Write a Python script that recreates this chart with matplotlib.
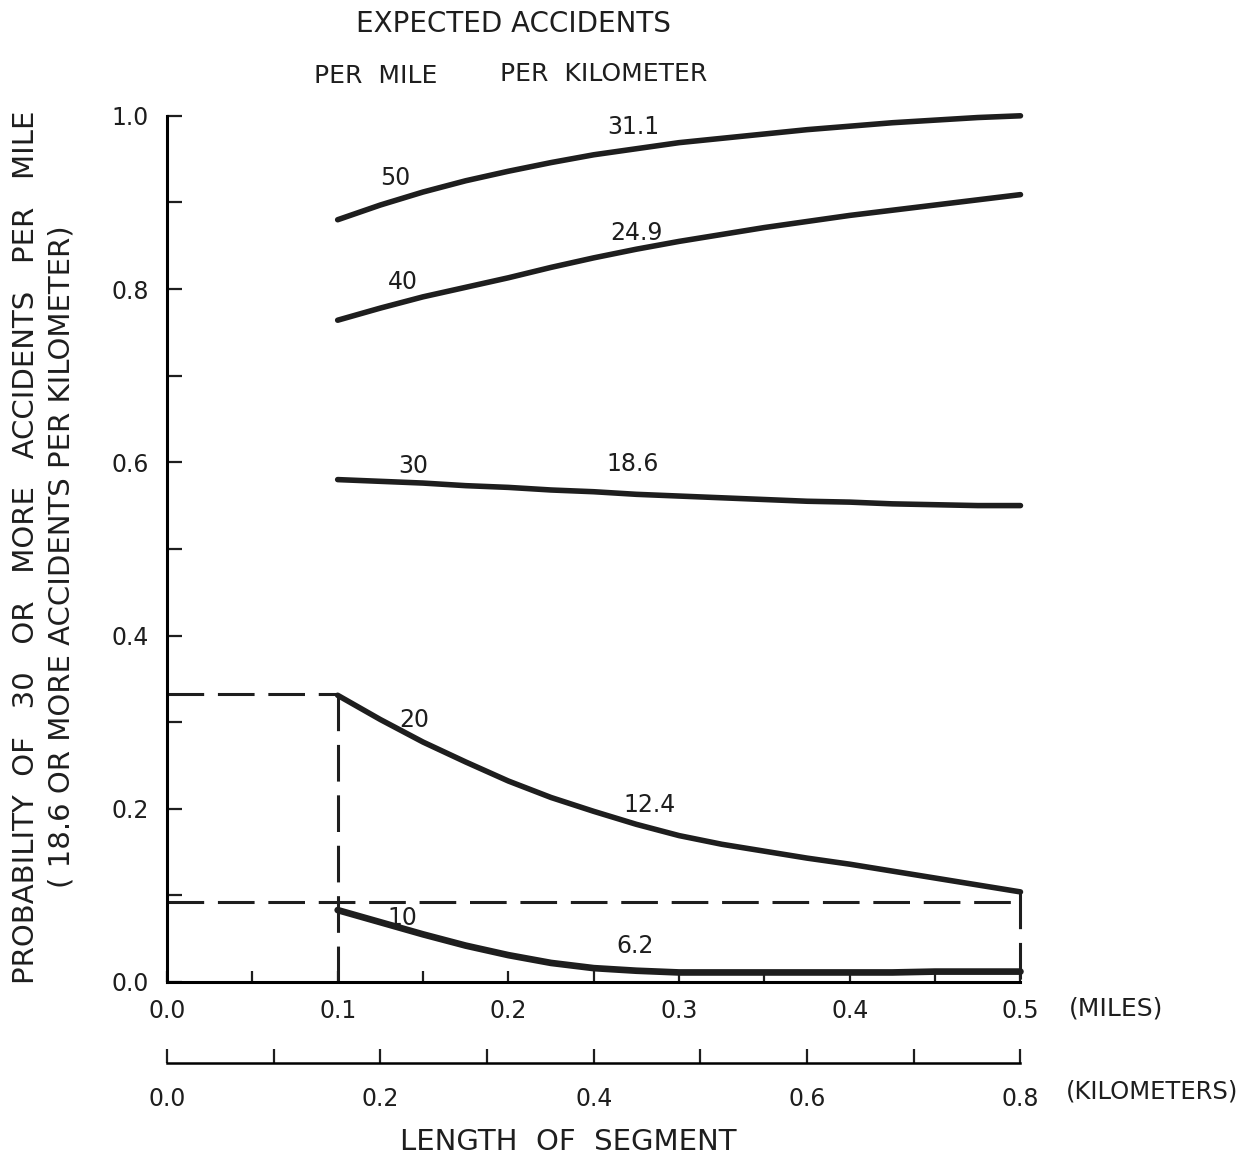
import matplotlib
matplotlib.use("Agg")
import matplotlib.pyplot as plt

plt.rcParams['font.family'] = ['DejaVu Sans']

# segment length in miles
miles = [0.1, 0.125, 0.15, 0.175, 0.2, 0.225, 0.25, 0.275, 0.3,
         0.325, 0.35, 0.375, 0.4, 0.425, 0.45, 0.475, 0.5]

# probability of 30 or more accidents per mile, one curve per expected rate
p50 = [0.880, 0.897, 0.912, 0.925, 0.936, 0.946, 0.955, 0.962, 0.969,
       0.974, 0.979, 0.984, 0.988, 0.992, 0.995, 0.998, 1.000]
p40 = [0.764, 0.778, 0.791, 0.802, 0.813, 0.825, 0.836, 0.846, 0.855,
       0.863, 0.871, 0.878, 0.885, 0.891, 0.897, 0.903, 0.909]
p30 = [0.580, 0.578, 0.576, 0.573, 0.571, 0.568, 0.566, 0.563, 0.561,
       0.559, 0.557, 0.555, 0.554, 0.552, 0.551, 0.550, 0.550]
p20 = [0.331, 0.303, 0.277, 0.254, 0.232, 0.213, 0.197, 0.182, 0.169,
       0.159, 0.151, 0.143, 0.136, 0.128, 0.120, 0.112, 0.104]
p10 = [0.083, 0.069, 0.055, 0.042, 0.031, 0.022, 0.016, 0.013, 0.011,
       0.011, 0.011, 0.011, 0.011, 0.011, 0.012, 0.012, 0.012]

per_mile = ['50', '40', '30', '20', '10']
per_km = ['31.1', '24.9', '18.6', '12.4', '6.2']
# label spots (miles, prob) for the two rate labels of each curve
mile_lab_pos = [(0.134, 0.928), (0.138, 0.808), (0.144, 0.596), (0.145, 0.302), (0.138, 0.074)]
km_lab_pos = [(0.273, 0.987), (0.275, 0.865), (0.273, 0.598), (0.283, 0.204), (0.274, 0.042)]

mile_ticks = [0.0, 0.1, 0.2, 0.3, 0.4, 0.5]
mile_minor = [0.05, 0.15, 0.25, 0.35, 0.45]
km_ticks = [0.0, 0.1, 0.2, 0.3, 0.4, 0.5, 0.6, 0.7, 0.8]
km_labels = ['0.0', '', '0.2', '', '0.4', '', '0.6', '', '0.8']
y_ticks = [0.0, 0.1, 0.2, 0.3, 0.4, 0.5, 0.6, 0.7, 0.8, 0.9, 1.0]
y_labels = ['0.0', '', '0.2', '', '0.4', '', '0.6', '', '0.8', '', '1.0']

ink = '#1e1e1e'

fig = plt.figure(figsize=(12.46, 11.58), dpi=100)
ax = fig.add_axes([0.134, 0.152, 0.685, 0.748])

for ys in [p50, p40, p30, p20]:
    ax.plot(miles, ys, color=ink, lw=4, solid_capstyle='round', clip_on=False)
ax.plot(miles, p10, color=ink, lw=4.8, solid_capstyle='round', clip_on=False)

# dashed reference lines
dash = (0, (12, 4.5))
ax.plot([0.0, 0.1], [0.332, 0.332], color=ink, lw=2.2, ls=dash, clip_on=False)
ax.plot([0.1, 0.1], [0.332, 0.0], color=ink, lw=2.2, ls=dash, clip_on=False)
ax.plot([0.0, 0.5], [0.092, 0.092], color=ink, lw=2.2, ls=dash, clip_on=False)
ax.plot([0.5, 0.5], [0.104, 0.0], color=ink, lw=2.2, ls=dash, clip_on=False)

for i in range(len(per_mile)):
    ax.text(mile_lab_pos[i][0], mile_lab_pos[i][1], per_mile[i], fontsize=17,
            ha='center', va='center', color=ink)
    ax.text(km_lab_pos[i][0], km_lab_pos[i][1], per_km[i], fontsize=17,
            ha='center', va='center', color=ink)

ax.set_xlim(0, 0.5)
ax.set_ylim(0, 1.0)
ax.spines['top'].set_visible(False)
ax.spines['right'].set_visible(False)
ax.spines['left'].set_linewidth(2.2)
ax.spines['bottom'].set_linewidth(2.2)

ax.set_xticks(mile_ticks)
ax.set_xticklabels(['0.0', '0.1', '0.2', '0.3', '0.4', '0.5'])
ax.set_xticks(mile_minor, minor=True)
ax.set_yticks(y_ticks)
ax.set_yticklabels(y_labels)
ax.tick_params(axis='x', which='both', direction='in', length=8, width=1.6, pad=12,
               labelsize=17, colors=ink)
ax.tick_params(axis='y', direction='in', length=11, width=1.6, pad=13,
               labelsize=17, colors=ink)

# kilometer scale under the mile scale (0.8 km drawn at 0.5 mi)
kax = ax.secondary_xaxis(-0.094, functions=(lambda m: m * 1.6, lambda k: k / 1.6))
kax.set_xticks(km_ticks)
kax.set_xticklabels(km_labels)
kax.spines['bottom'].set_linewidth(1.8)
kax.tick_params(direction='in', length=10, width=1.6, pad=17, labelsize=17, colors=ink)

# headers and axis titles
ax.text(0.203, 1.106, 'EXPECTED ACCIDENTS', fontsize=20, ha='center', va='center',
        color=ink, clip_on=False)
ax.text(0.122, 1.046, 'PER  MILE', fontsize=18, ha='center', va='center',
        color=ink, clip_on=False)
ax.text(0.256, 1.048, 'PER  KILOMETER', fontsize=18, ha='center', va='center',
        color=ink, clip_on=False)
ax.text(0.556, -0.031, '(MILES)', fontsize=18, ha='center', va='center',
        color=ink, clip_on=False)
ax.text(0.577, -0.126, '(KILOMETERS)', fontsize=17.5, ha='center', va='center',
        color=ink, clip_on=False)
ax.text(0.235, -0.185, 'LENGTH  OF  SEGMENT', fontsize=21, ha='center', va='center',
        color=ink, clip_on=False)

fig.text(0.021, 0.527, 'PROBABILITY  OF   30   OR   MORE   ACCIDENTS   PER   MILE',
         rotation=90, fontsize=21, ha='center', va='center', color=ink)
fig.text(0.049, 0.519, '( 18.6 OR MORE ACCIDENTS PER KILOMETER)',
         rotation=90, fontsize=21, ha='center', va='center', color=ink)

fig.savefig('out.png', dpi=100)
